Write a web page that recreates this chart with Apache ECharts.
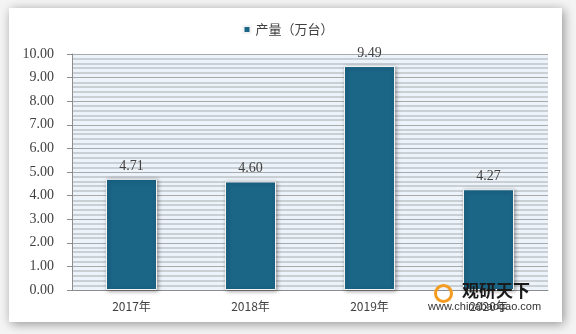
<!DOCTYPE html>
<html><head><meta charset="utf-8">
<script src="https://cdn.jsdelivr.net/npm/echarts@6/dist/echarts.min.js"></script>
<style>html,body{margin:0;padding:0;background:#ffffff;}#c{width:576px;height:334px;}</style>
</head><body><div id="c"></div>
<script>
var categories = ['2017年', '2018年', '2019年', '2020年'];
var production = [4.71, 4.60, 9.49, 4.27];
var seriesName = '产量（万台）';

var chart = echarts.init(document.getElementById('c'));
chart.setOption({
  animation: false,
  backgroundColor: '#f4f4f4',
  graphic: [
    {type: 'rect', z: -10, shape: {x: 9, y: 8, width: 553, height: 314},
     style: {fill: '#ffffff', shadowBlur: 10, shadowColor: 'rgba(0,0,0,0.4)', shadowOffsetX: 2, shadowOffsetY: 2}},
    {type: 'text', left: 462, top: 282, z: 100,
     style: {text: '观研天下', font: 'bold 17px "Noto Sans CJK SC"', fill: '#1a1a1a'}},
    {type: 'text', left: 428, top: 301, z: 100,
     style: {text: 'www.chinabaogao.com', font: '11px "Liberation Sans"', fill: '#333333'}},
    {type: 'circle', left: 433, top: 283, z: 99, shape: {r: 8},
     style: {fill: 'none', stroke: '#f39c1f', lineWidth: 3}}
  ],
  legend: {
    top: 18, left: 'center',
    itemWidth: 7, itemHeight: 7, icon: 'rect', itemGap: 4,
    textStyle: {fontFamily: '"Noto Sans CJK SC"', fontSize: 13, color: '#404040'},
    data: [seriesName]
  },
  grid: {left: 72, right: 28, top: 54, bottom: 44, containLabel: false, show: true, backgroundColor: '#edf3fa', borderWidth: 0},
  xAxis: {
    type: 'category', data: categories,
    axisLine: {lineStyle: {color: '#8c8c8c'}},
    axisTick: {show: false},
    axisLabel: {fontFamily: '"Noto Sans CJK SC"', fontSize: 12, color: '#404040', margin: 10}
  },
  yAxis: {
    type: 'value', min: 0, max: 10, interval: 1,
    axisLine: {show: true, lineStyle: {color: '#8c8c8c'}},
    axisTick: {show: true, length: 5, inside: false, lineStyle: {color: '#8c8c8c'}},
    axisLabel: {formatter: function(v){return v.toFixed(2);}, fontFamily: '"Liberation Serif"', fontSize: 14, color: '#404040', margin: 18},
    splitLine: {show: true, lineStyle: {color: '#a9a9a9', width: 1}},
    minorTick: {show: true, splitNumber: 5, length: 0},
    minorSplitLine: {show: true, lineStyle: {color: '#bfc3c7', width: 1.5}}
  },
  series: [{
    name: seriesName, type: 'bar', data: production, barWidth: 51,
    itemStyle: {color: '#1b6587', borderColor: '#f2f2f2', borderWidth: 1, shadowBlur: 4, shadowColor: 'rgba(0,0,0,0.35)', shadowOffsetX: 1, shadowOffsetY: 1},
    label: {show: true, position: 'top', distance: 6, formatter: function(p){return p.value.toFixed(2);}, fontFamily: '"Liberation Serif"', fontSize: 14, color: '#404040'}
  }]
});
</script></body></html>
